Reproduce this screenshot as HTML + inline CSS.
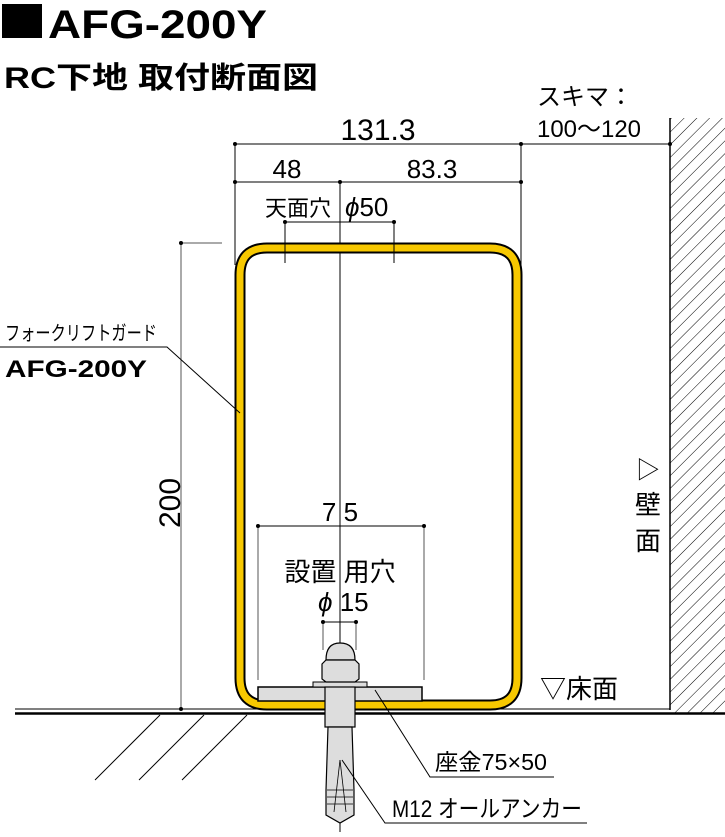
<!DOCTYPE html>
<html><head><meta charset="utf-8"><style>
html,body{margin:0;padding:0;background:#fff;}
svg{display:block;}
text{font-family:"Liberation Sans","Noto Sans CJK JP",sans-serif;fill:#000;}
</style></head><body>
<svg width="725" height="837" viewBox="0 0 725 837" xmlns="http://www.w3.org/2000/svg">
<defs>
<pattern id="h" width="9" height="9" patternUnits="userSpaceOnUse" patternTransform="rotate(45)">
<line x1="0" y1="0" x2="0" y2="9" stroke="#000" stroke-width="1"/>
</pattern>
</defs>
<rect x="2" y="4" width="40" height="34" fill="#000"/>
<text x="48" y="38" font-size="40" font-weight="bold" textLength="219" lengthAdjust="spacingAndGlyphs">AFG-200Y</text>
<text x="4" y="88" font-size="30" font-weight="bold" textLength="314" lengthAdjust="spacingAndGlyphs">RC下地 取付断面図</text>

<rect x="670" y="118" width="55" height="595" fill="url(#h)"/>
<line x1="670" y1="118" x2="670" y2="710" stroke="#000" stroke-width="1.5"/>

<line x1="15" y1="709" x2="670" y2="709" stroke="#000" stroke-width="1"/>
<line x1="15" y1="713.5" x2="725" y2="713.5" stroke="#000" stroke-width="2.5"/>
<g stroke="#000" stroke-width="1">
<line x1="160" y1="715" x2="95" y2="780"/>
<line x1="204" y1="715" x2="139" y2="780"/>
<line x1="247" y1="715" x2="182" y2="780"/>
</g>

<g stroke="#000" stroke-width="1" fill="none">
<line x1="235" y1="144" x2="670" y2="144"/>
<line x1="235" y1="182" x2="521" y2="182"/>
<line x1="235" y1="144" x2="235" y2="265"/>
<line x1="521" y1="144" x2="521" y2="272"/>
<line x1="285" y1="222" x2="394" y2="222"/>
<line x1="285" y1="222" x2="285" y2="263"/>
<line x1="394" y1="222" x2="394" y2="263"/>
<line x1="340" y1="182" x2="340" y2="832"/>
<line x1="181" y1="243" x2="181" y2="709" stroke="#555"/>
<line x1="181" y1="243" x2="222" y2="243" stroke="#555"/>
<line x1="258" y1="526" x2="424" y2="526"/>
<line x1="258" y1="526" x2="258" y2="680" stroke="#555"/>
<line x1="424" y1="526" x2="424" y2="680" stroke="#555"/>
<line x1="323" y1="622" x2="356" y2="622"/>
<line x1="323" y1="622" x2="323" y2="650" stroke="#555"/>
<line x1="356" y1="622" x2="356" y2="650" stroke="#555"/>
</g>
<g fill="#000">
<circle cx="235" cy="144" r="2"/><circle cx="521" cy="144" r="2"/><circle cx="670" cy="144" r="2"/>
<circle cx="235" cy="182" r="2"/><circle cx="340" cy="182" r="2"/><circle cx="521" cy="182" r="2"/>
<circle cx="285" cy="222" r="2"/><circle cx="394" cy="222" r="2"/>
<circle cx="181" cy="243" r="2"/><circle cx="181" cy="709" r="2"/>
<circle cx="258" cy="526" r="2"/><circle cx="424" cy="526" r="2"/>
<circle cx="323" cy="622" r="2"/><circle cx="356" cy="622" r="2"/>
</g>
<text x="378" y="140" font-size="30" text-anchor="middle">131.3</text>
<text x="287" y="178" font-size="26" text-anchor="middle">48</text>
<text x="432" y="178" font-size="26" text-anchor="middle">83.3</text>
<text x="265" y="216" font-size="22">天面穴</text>
<text x="345" y="216" font-size="26"><tspan font-style="italic">ϕ</tspan>50</text>
<text x="537" y="105" font-size="24">スキマ：</text>
<text x="537" y="137" font-size="24" textLength="104" lengthAdjust="spacingAndGlyphs">100〜120</text>
<text transform="translate(180,503) rotate(-90)" font-size="30" text-anchor="middle">200</text>

<path d="M240 678 V275 Q240 248 267 248 H490 Q517 248 517 275 V678 Q517 705 490 705 H267 Q240 705 240 678 Z" fill="none" stroke="#000" stroke-width="11"/>
<path d="M240 678 V275 Q240 248 267 248 H490 Q517 248 517 275 V678 Q517 705 490 705 H267 Q240 705 240 678 Z" fill="none" stroke="#f7c800" stroke-width="7"/>
<line x1="285" y1="243" x2="285" y2="253" stroke="#000"/>
<line x1="394" y1="243" x2="394" y2="253" stroke="#000"/>

<text x="5" y="340" font-size="20" textLength="152" lengthAdjust="spacingAndGlyphs">フォークリフトガード</text>
<polyline points="0,347 167,347 240,413" fill="none" stroke="#000" stroke-width="1"/>
<text x="5" y="377" font-size="24" font-weight="bold" textLength="142" lengthAdjust="spacingAndGlyphs">AFG-200Y</text>

<text x="340" y="521" font-size="26" text-anchor="middle">7 5</text>
<text x="340" y="581" font-size="26" text-anchor="middle">設置 用穴</text>
<text x="318" y="611" font-size="26"><tspan font-style="italic">ϕ</tspan> 15</text>

<rect x="258" y="687" width="164" height="14" fill="#ddd" stroke="#000" stroke-width="1.5"/>
<rect x="313" y="682" width="54" height="5" fill="#ddd" stroke="#000" stroke-width="1"/>
<path d="M326 660 Q326 643 340 643 Q355 643 355 660 Z" fill="#ddd" stroke="#000" stroke-width="1.2"/>
<path d="M322 664 L326 660 H355 L359 664 V679 L355 682 H326 L322 679 Z" fill="#ddd" stroke="#000" stroke-width="1.2"/>
<rect x="325" y="687" width="30" height="40" fill="#ddd" stroke="#000" stroke-width="1.2"/>
<path d="M328 727 H352 L354 790 L354 815 L340 823 L326 815 L326 790 Z" fill="#ddd" stroke="#000" stroke-width="1.2"/>
<g stroke="#000" stroke-width="0.8">
<line x1="340" y1="760" x2="334" y2="812"/><line x1="340" y1="760" x2="346" y2="812"/>
<line x1="327" y1="790" x2="353" y2="790"/><line x1="327" y1="797" x2="353" y2="797"/><line x1="327" y1="804" x2="353" y2="804"/>
</g>
<polyline points="375,690 430,777 554,777" fill="none" stroke="#000" stroke-width="1"/>
<polyline points="342,760 385,823 587,823" fill="none" stroke="#000" stroke-width="1"/>
<text x="435" y="770" font-size="23" textLength="112" lengthAdjust="spacingAndGlyphs">座金75×50</text>
<text x="392" y="817" font-size="24" textLength="190" lengthAdjust="spacingAndGlyphs">M12 オールアンカー</text>

<text x="540" y="698" font-size="26">▽床面</text>
<text x="648" y="478" font-size="24" text-anchor="middle">▷</text>
<text x="648" y="514" font-size="26" text-anchor="middle">壁</text>
<text x="648" y="550" font-size="26" text-anchor="middle">面</text>
</svg>
</body></html>
